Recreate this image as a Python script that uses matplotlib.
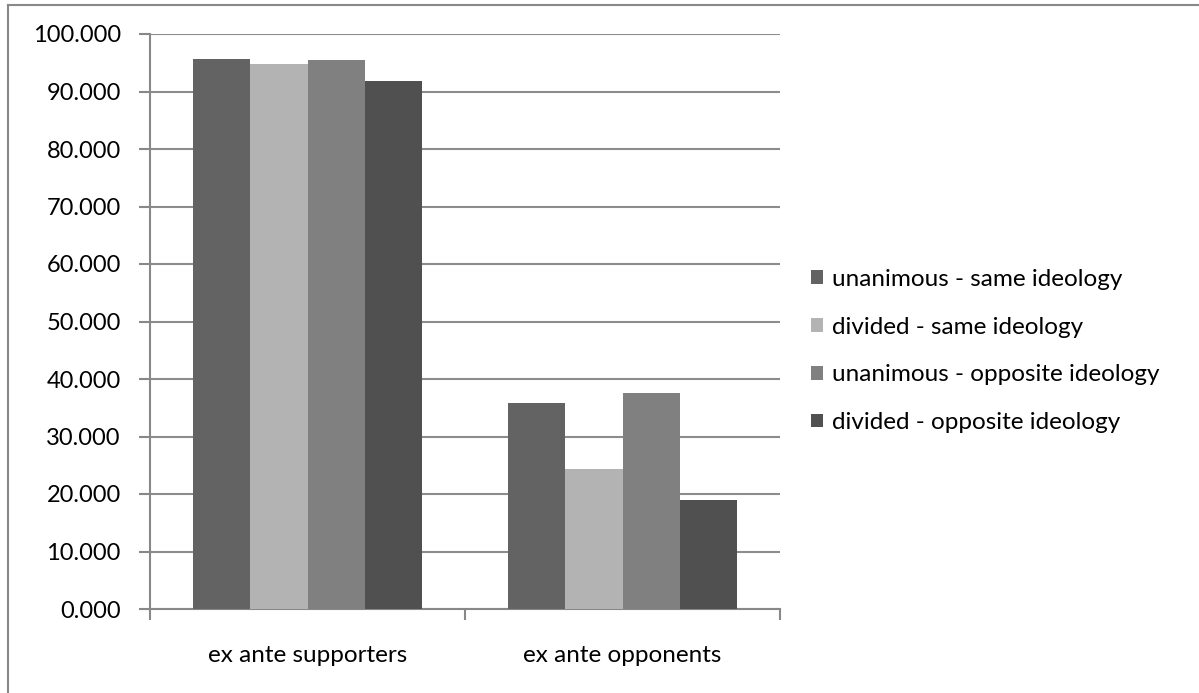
import numpy as np
import matplotlib.pyplot as plt
from matplotlib.lines import Line2D

plt.rcParams['font.family'] = ['Lato', 'DejaVu Sans']

# data
groups = ['ex ante supporters', 'ex ante opponents']
series = ['unanimous - same ideology', 'divided - same ideology',
          'unanimous - opposite ideology', 'divided - opposite ideology']
unan_same = [95.7, 35.8]
div_same = [94.7, 24.3]
unan_opp = [95.5, 37.6]
div_opp = [91.8, 19.0]
values = [unan_same, div_same, unan_opp, div_opp]
colors = ['#636363', '#b3b3b3', '#808080', '#505050']

fig = plt.figure(figsize=(11.99, 6.93), dpi=100)
W, H = 1199, 693
ax = fig.add_axes([150 / W, 1 - 609 / H, (780 - 150) / W, (609 - 34) / H])

# outer chart border
fig.add_artist(Line2D([8 / W, 1], [1 - 5 / H, 1 - 5 / H], color='#888888', lw=1.5, transform=fig.transFigure))
fig.add_artist(Line2D([8 / W, 8 / W], [0, 1 - 5 / H], color='#888888', lw=1.5, transform=fig.transFigure))

x = np.arange(len(groups))
w = 1 / 5.5
for i, (vals, c, lab) in enumerate(zip(values, colors, series)):
    ax.bar(x + (i - 1.5) * w, vals, w, color=c, label=lab, zorder=3)

ax.set_xlim(-0.5, 1.5)
ax.set_ylim(0, 100)
ax.set_yticks(np.arange(0, 101, 10))
ax.set_yticklabels(['%.3f' % v for v in np.arange(0, 101, 10)])
ax.yaxis.grid(True, color='#8c8c8c', lw=1.5, zorder=0)
ax.set_axisbelow(True)

ax.set_xticks(x)
ax.set_xticklabels(groups)
ax.set_xticks([-0.5, 0.5, 1.5], minor=True)
ax.tick_params(axis='x', which='major', length=0, pad=26, labelsize=17.5)
ax.tick_params(axis='x', which='minor', length=8, color='#888888', width=1.5)
ax.tick_params(axis='y', length=8, color='#888888', width=1.5, pad=13, labelsize=17)

for s in ['top', 'right']:
    ax.spines[s].set_visible(False)
for s in ['left', 'bottom']:
    ax.spines[s].set_color('#888888')
    ax.spines[s].set_linewidth(1.5)

fig.legend(loc='center left', bbox_to_anchor=(789 / W, 1 - 351 / H), frameon=False,
           fontsize=17.5, handlelength=0.5, handleheight=0.5, handletextpad=0.35,
           labelspacing=1.1)

fig.savefig('out.png', dpi=100)
